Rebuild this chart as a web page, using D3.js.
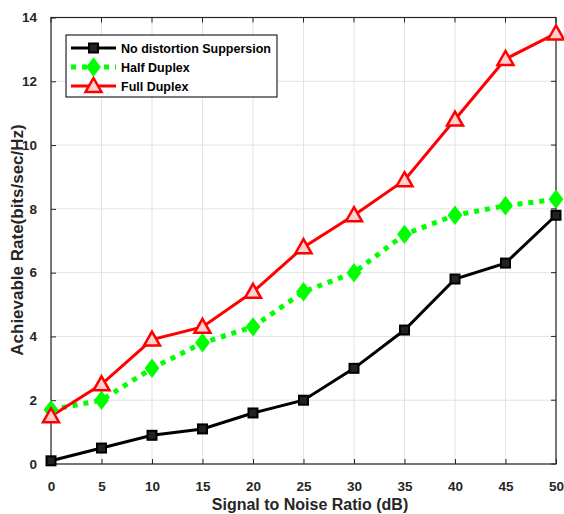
<!DOCTYPE html>
<html><head><meta charset="utf-8">
<script src="https://cdn.jsdelivr.net/npm/d3@7"></script>
<style>body{margin:0;background:#fff}svg{display:block}</style>
</head><body>
<script>
const snr = [0,5,10,15,20,25,30,35,40,45,50];
const noDistortion = [0.1,0.5,0.9,1.1,1.6,2.0,3.0,4.2,5.8,6.3,7.8];
const halfDuplex = [1.7,2.0,3.0,3.8,4.3,5.4,6.0,7.2,7.8,8.1,8.3];
const fullDuplex = [1.5,2.5,3.9,4.3,5.4,6.8,7.8,8.9,10.8,12.7,13.5];
const xTicks = [0,5,10,15,20,25,30,35,40,45,50];
const yTicks = [0,2,4,6,8,10,12,14];
const seriesNames = ["No distortion Suppersion","Half Duplex","Full Duplex"];

const W=564,H=514;
const L=51,R=556,T=17.5,B=464;
const svg=d3.select("body").append("svg").attr("width",W).attr("height",H);
const x=d3.scaleLinear().domain([0,50]).range([L,R]);
const y=d3.scaleLinear().domain([0,14]).range([B,T]);
const font="Arial, 'Liberation Sans', sans-serif";

// grid
svg.append("g").selectAll("line").data(xTicks).join("line")
 .attr("x1",d=>x(d)).attr("x2",d=>x(d)).attr("y1",T).attr("y2",B)
 .attr("stroke","#e3e3e3").attr("stroke-width",1);
svg.append("g").selectAll("line").data(yTicks).join("line")
 .attr("y1",d=>y(d)).attr("y2",d=>y(d)).attr("x1",L).attr("x2",R)
 .attr("stroke","#e3e3e3").attr("stroke-width",1);

// axes
const ax=d3.axisBottom(x).tickValues(xTicks).tickSize(5).tickPadding(12);
const ay=d3.axisLeft(y).tickValues(yTicks).tickSize(5).tickPadding(9);
function styleAxis(g){g.select(".domain").remove();
 g.selectAll("text").attr("font-family",font).attr("font-weight","bold").attr("font-size",13.5).attr("fill","#262626");}
const gx=svg.append("g").attr("transform",`translate(0,${B})`).call(ax).call(styleAxis);
gx.selectAll(".tick line").attr("y2",-5).attr("stroke","#262626");
const gy=svg.append("g").attr("transform",`translate(${L},0)`).call(ay).call(styleAxis);
gy.selectAll(".tick line").attr("x2",5).attr("stroke","#262626");
// top/right ticks
svg.append("g").selectAll("line").data(xTicks).join("line")
 .attr("x1",d=>x(d)).attr("x2",d=>x(d)).attr("y1",T).attr("y2",T+5).attr("stroke","#262626");
svg.append("g").selectAll("line").data(yTicks).join("line")
 .attr("y1",d=>y(d)).attr("y2",d=>y(d)).attr("x1",R).attr("x2",R-5).attr("stroke","#262626");
svg.append("rect").attr("x",L).attr("y",T).attr("width",R-L).attr("height",B-T)
 .attr("fill","none").attr("stroke","#262626").attr("stroke-width",1.2);

// lines
const line=d3.line().x((d,i)=>x(snr[i])).y(d=>y(d));
svg.append("path").datum(noDistortion).attr("d",line).attr("fill","none").attr("stroke","#000").attr("stroke-width",3);
svg.append("path").datum(halfDuplex).attr("d",line).attr("fill","none").attr("stroke","#00ff00").attr("stroke-width",5).attr("stroke-dasharray","5,6");
svg.append("path").datum(fullDuplex).attr("d",line).attr("fill","none").attr("stroke","#ff0000").attr("stroke-width",3);

function square(g,cx,cy){g.append("rect").attr("x",cx-4.5).attr("y",cy-4.5).attr("width",9).attr("height",9)
 .attr("fill","#222").attr("stroke","#000").attr("stroke-width",2);}
function diamond(g,cx,cy){g.append("path").attr("d",`M${cx},${cy-8.5}L${cx+6.5},${cy}L${cx},${cy+8.5}L${cx-6.5},${cy}Z`)
 .attr("fill","#00ff00").attr("stroke","#00ff00").attr("stroke-width",1.5);}
function tri(g,cx,cy){g.append("path").attr("d",`M${cx},${cy-8}L${cx+8},${cy+6}L${cx-8},${cy+6}Z`)
 .attr("fill","#ffd0d0").attr("stroke","#ff0000").attr("stroke-width",2.5);}

const mk=svg.append("g");
noDistortion.forEach((v,i)=>square(mk,x(snr[i]),y(v)));
halfDuplex.forEach((v,i)=>diamond(mk,x(snr[i]),y(v)));
fullDuplex.forEach((v,i)=>tri(mk,x(snr[i]),y(v)));

// legend
const lg=svg.append("g");
lg.append("rect").attr("x",66).attr("y",35).attr("width",211).attr("height",62)
 .attr("fill","#fff").attr("stroke","#262626").attr("stroke-width",1.2);
const rows=[48,67,86];
lg.append("line").attr("x1",71).attr("x2",116).attr("y1",rows[0]).attr("y2",rows[0]).attr("stroke","#000").attr("stroke-width",3);
square(lg,93.5,rows[0]);
lg.append("line").attr("x1",71).attr("x2",116).attr("y1",rows[1]).attr("y2",rows[1]).attr("stroke","#00ff00").attr("stroke-width",5).attr("stroke-dasharray","5,6");
diamond(lg,93.5,rows[1]);
lg.append("line").attr("x1",71).attr("x2",116).attr("y1",rows[2]).attr("y2",rows[2]).attr("stroke","#ff0000").attr("stroke-width",3);
tri(lg,93.5,rows[2]);
lg.selectAll("text").data(seriesNames).join("text")
 .attr("x",121).attr("y",(d,i)=>rows[i]+4.5).text(d=>d)
 .attr("font-family",font).attr("font-weight","bold").attr("font-size",12.5).attr("fill","#000");

// axis labels
svg.append("text").attr("x",310).attr("y",510).attr("text-anchor","middle")
 .attr("font-family",font).attr("font-weight","bold").attr("font-size",16).attr("fill","#262626")
 .text("Signal to Noise Ratio (dB)");
svg.append("text").attr("transform",`translate(23,240) rotate(-90)`).attr("text-anchor","middle")
 .attr("font-family",font).attr("font-weight","bold").attr("font-size",17).attr("fill","#262626")
 .text("Achievable Rate(bits/sec/Hz)");
</script>
</body></html>
